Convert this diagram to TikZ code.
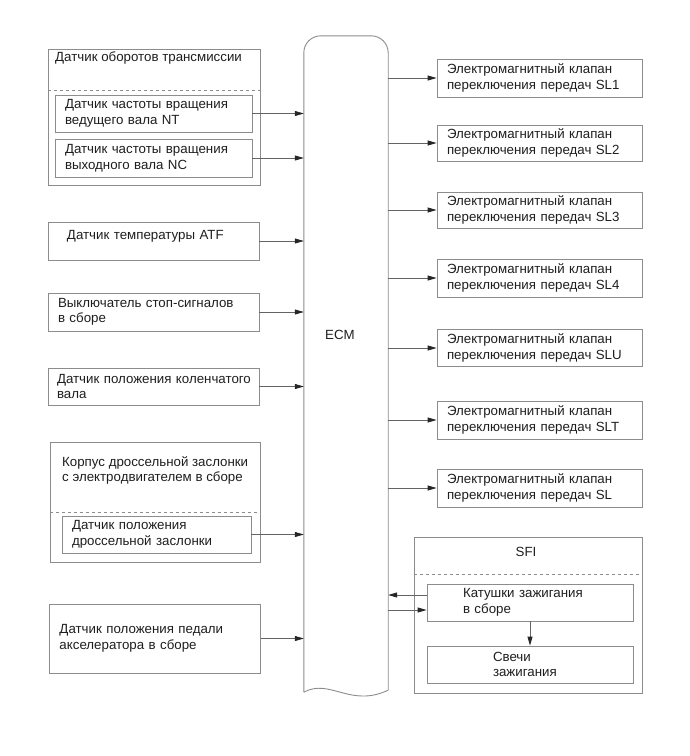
\documentclass[tikz,border=0pt]{standalone}
\usepackage{fontspec}
\setmainfont{Liberation Sans}
\usetikzlibrary{arrows.meta}
\definecolor{LineGray}{RGB}{140,140,140}
\definecolor{WireGray}{RGB}{100,100,100}
\definecolor{TextGray}{RGB}{30,30,30}
\begin{document}
\begin{tikzpicture}[x=1pt, y=-1pt, font=\fontsize{13.3}{15.5}\selectfont, text=TextGray,
  box/.style={draw=LineGray, line width=0.8pt, align=left, inner xsep=10pt, inner ysep=0pt, minimum height=37pt},
  sensor/.style={box, text width=191pt}, valve/.style={box, text width=185pt},
  grp/.style={draw=LineGray, line width=0.8pt, inner sep=0pt}, sep/.style={LineGray, dashed, line width=0.7pt},
  lbl/.style={inner sep=0pt, align=left}, frame/.style={LineGray, line width=0.9pt},
  ar/.style={-{Triangle[length=9pt, width=5pt, color=black!85]}, WireGray, line width=0.8pt}]
\useasboundingbox (0,0) rectangle (689,756);
% ECM
\node[inner sep=0pt, minimum width=84pt, minimum height=656pt] (ecm) at (346,364) {};
\draw[frame, rounded corners=17pt] (ecm.south west) -- (ecm.north west) -- (ecm.north east) -- ([yshift=2pt]ecm.south east);
\draw[frame] (ecm.south west) .. controls (330,678) and (350,708) .. ([yshift=2pt]ecm.south east);
\node[lbl] (ecmt) at (340,335) {ECM};
% inputs
\node[grp, minimum width=212pt, minimum height=136pt] (g1) at (154,117) {};
\node[lbl, anchor=west] (g1t) at (55,58) {Датчик оборотов трансмиссии};
\draw[sep] (g1.west |- 0,90) -- (g1.east |- 0,90);
\node[box, text width=177pt] (nt) at (153.5,113.5) {Датчик частоты вращения\\ведущего вала NT};
\node[box, text width=177pt, minimum height=38pt] (nc) at (153.5,158) {Датчик частоты вращения\\выходного вала NC};
\node[sensor, minimum height=38pt] (atf) at (153.5,241) {\hspace*{9pt}Датчик температуры ATF\\[-4pt]~};
\node[sensor, minimum height=38pt] (stop) at (153.5,312) {Выключатель стоп-сигналов\\в сборе};
\node[sensor, text width=201pt, inner xsep=5pt] (crank) at (153.5,386.5) {\hspace*{4pt}Датчик положения коленчатого\\\hspace*{4pt}вала};
\node[grp, minimum width=210pt, minimum height=120pt] (g2) at (155,502) {};
\node[lbl, anchor=west] (g2t) at (62,470.5) {Корпус дроссельной заслонки\\с электродвигателем в сборе};
\draw[sep] (g2.west |- 0,512) -- (g2.east |- 0,512);
\node[box, text width=169pt] (tps) at (156.5,534.5) {Датчик положения\\дроссельной заслонки};
\node[sensor, minimum height=69pt] (pedal) at (155,638.5) {Датчик положения педали\\акселератора в сборе};
\draw[ar] (nt.east) -- (nt.east -| ecm.west); \draw[ar] (nc.east) -- (nc.east -| ecm.west);
\draw[ar] (atf.east) -- (atf.east -| ecm.west); \draw[ar] (stop.east) -- (stop.east -| ecm.west);
\draw[ar] (crank.east) -- (crank.east -| ecm.west); \draw[ar] (tps.east) -- (tps.east -| ecm.west);
\draw[ar] (pedal.east) -- (pedal.east -| ecm.west);
% outputs
\node[valve, minimum height=38pt] (sl1) at (539.5,78) {Электромагнитный клапан\\переключения передач SL1};
\node[valve, minimum height=36pt] (sl2) at (539.5,143) {Электромагнитный клапан\\переключения передач SL2};
\node[valve, minimum height=36pt] (sl3) at (539.5,210) {Электромагнитный клапан\\переключения передач SL3};
\node[valve, minimum height=38pt] (sl4) at (539.5,278) {Электромагнитный клапан\\переключения передач SL4};
\node[valve] (slu) at (539.5,348) {Электромагнитный клапан\\переключения передач SLU};
\node[valve, minimum height=38pt] (slt) at (539.5,420) {Электромагнитный клапан\\переключения передач SLT};
\node[valve, minimum height=38pt] (sl) at (539.5,488) {Электромагнитный клапан\\переключения передач SL};
\foreach \v in {sl1,sl2,sl3,sl4,slu,slt,sl} \draw[ar] (\v.west -| ecm.east) -- (\v.west);
% SFI
\node[grp, minimum width=228pt, minimum height=156pt] (sfi) at (528,615) {};
\node[lbl] (sfit) at (526,552) {SFI};
\draw[sep] (sfi.west |- 0,574) -- (sfi.east |- 0,574);
\node[box, text width=134pt, inner xsep=36pt] (coil) at (530,602.5) {Катушки зажигания\\в сборе};
\node[box, text width=74pt, inner xsep=66pt] (plug) at (530,664.5) {Свечи\\зажигания};
\draw[ar] ([yshift=7.5pt]coil.west) -- ([yshift=7.5pt]coil.west -| ecm.east);
\draw[ar] ([yshift=-7.5pt]coil.west -| ecm.east) -- ([yshift=-7.5pt]coil.west);
\draw[ar] (coil) -- (plug);
\end{tikzpicture}
\end{document}
